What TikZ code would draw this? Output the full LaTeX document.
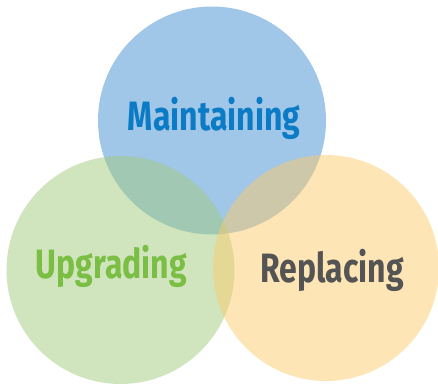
\documentclass[tikz,border=0pt]{standalone}
\usepackage{fontspec}
\newfontfamily\lblfont[FakeStretch=0.78]{Fira Sans Bold}
\definecolor{cblue}{RGB}{65,141,209}
\definecolor{cgreen}{RGB}{161,203,125}
\definecolor{corange}{RGB}{251,203,107}
\definecolor{tblue}{RGB}{10,123,196}
\definecolor{tgreen}{RGB}{122,190,67}
\definecolor{tgray}{RGB}{84,84,84}
\tikzset{
  venn/.style={circle, minimum size=228pt, inner sep=0pt, fill opacity=0.5},
  lbl/.style={font=\lblfont\fontsize{41}{41}\selectfont, anchor=base, inner sep=0pt}
}
\begin{document}
\begin{tikzpicture}[x=1pt,y=-1pt]
\useasboundingbox (0,0) rectangle (438,385);
\node[venn, fill=cblue] (m) at (212,120.5) {};
\node[venn, fill=cgreen] (u) at (120.5,270) {};
\node[venn, fill=corange, minimum size=226pt] (r) at (326,268) {};
\node[lbl, text=tblue] (tm) at (214,130) {Maintaining};
\node[lbl, text=tgreen] (tu) at (111.5,278) {Upgrading};
\node[lbl, text=tgray] (tr) at (332,282) {Replacing};
\end{tikzpicture}
\end{document}
